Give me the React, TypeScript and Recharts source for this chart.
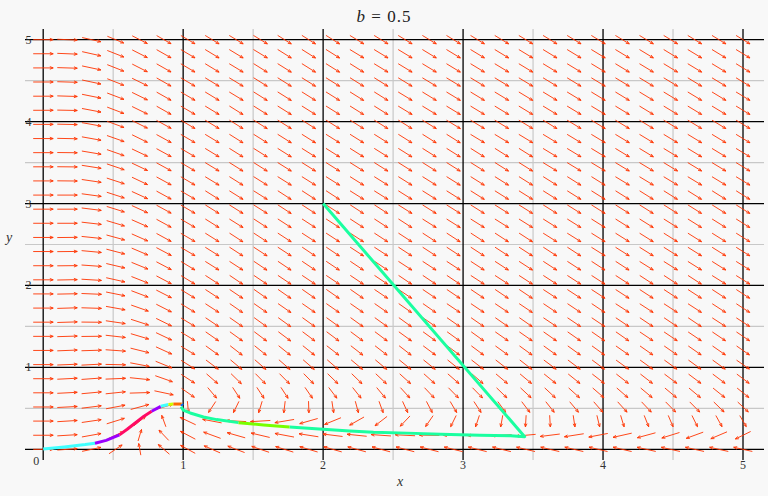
import React from 'react';
import { ScatterChart, Scatter, XAxis, YAxis, CartesianGrid } from 'recharts';

// sample points of the direction field (0..5 in 29 steps on both axes)
const fieldX = [0, 0.172, 0.345, 0.517, 0.69, 0.862, 1.034, 1.207, 1.379, 1.552, 1.724, 1.897, 2.069, 2.241, 2.414, 2.586, 2.759, 2.931, 3.103, 3.276, 3.448, 3.621, 3.793, 3.966, 4.138, 4.31, 4.483, 4.655, 4.828, 5];
const fieldY = [0, 0.172, 0.345, 0.517, 0.69, 0.862, 1.034, 1.207, 1.379, 1.552, 1.724, 1.897, 2.069, 2.241, 2.414, 2.586, 2.759, 2.931, 3.103, 3.276, 3.448, 3.621, 3.793, 3.966, 4.138, 4.31, 4.483, 4.655, 4.828, 5];

// arrow direction in degrees for each row of fieldY (0 = right, 90 = up)
const fieldAngle = [
  [0, 7, 20, 49, 96, 124, 137, 143, 147, 150, 152, 153, 154, 155, 155, 156, 156, 157, 157, 157, 158, 158, 158, 158, 158, 159, 159, 159, 159, 159],
  [0, 6, 17, 38, 80, 119, 138, 148, 154, 158, 162, 165, 168, 170, 173, 175, 178, 180, 183, 186, 189, 192, 195, 198, 201, 205, 208, 212, 216, 220],
  [0, 6, 14, 28, 54, 102, 141, 162, 175, 186, 196, 206, 215, 224, 233, 241, 248, 254, 259, 264, 268, 272, 275, 278, 280, 283, 284, 286, 288, 289],
  [0, 5, 12, 18, 25, 27, -87, -111, -106, -100, -94, -89, -85, -81, -78, -75, -73, -71, -69, -67, -66, -65, -64, -63, -62, -61, -60, -60, -59, -58],
  [0, 5, 9, 10, 3, -20, -50, -64, -69, -69, -69, -68, -66, -65, -64, -62, -61, -60, -60, -59, -58, -58, -57, -56, -56, -55, -55, -55, -54, -54],
  [0, 5, 7, 4, -10, -31, -48, -56, -59, -60, -60, -60, -59, -59, -58, -57, -57, -56, -56, -55, -55, -54, -54, -53, -53, -53, -52, -52, -52, -52],
  [0, 4, 5, -2, -18, -35, -47, -52, -55, -56, -56, -56, -56, -55, -55, -54, -54, -54, -53, -53, -53, -52, -52, -52, -51, -51, -51, -51, -51, -50],
  [0, 4, 3, -7, -23, -38, -46, -51, -53, -54, -54, -54, -53, -53, -53, -53, -52, -52, -52, -51, -51, -51, -51, -51, -50, -50, -50, -50, -50, -50],
  [0, 3, 1, -11, -27, -39, -46, -50, -51, -52, -52, -52, -52, -52, -52, -51, -51, -51, -51, -50, -50, -50, -50, -50, -50, -49, -49, -49, -49, -49],
  [0, 3, -1, -14, -29, -40, -46, -49, -50, -51, -51, -51, -51, -51, -51, -51, -50, -50, -50, -50, -50, -49, -49, -49, -49, -49, -49, -49, -48, -48],
  [0, 3, -3, -17, -31, -41, -46, -48, -50, -50, -50, -50, -50, -50, -50, -50, -50, -49, -49, -49, -49, -49, -49, -49, -48, -48, -48, -48, -48, -48],
  [0, 2, -4, -19, -33, -41, -46, -48, -49, -50, -50, -50, -50, -50, -49, -49, -49, -49, -49, -49, -49, -48, -48, -48, -48, -48, -48, -48, -48, -48],
  [0, 2, -6, -21, -34, -42, -46, -48, -49, -49, -49, -49, -49, -49, -49, -49, -49, -49, -48, -48, -48, -48, -48, -48, -48, -48, -48, -48, -47, -47],
  [0, 1, -7, -22, -35, -42, -46, -47, -48, -49, -49, -49, -49, -49, -49, -48, -48, -48, -48, -48, -48, -48, -48, -48, -48, -47, -47, -47, -47, -47],
  [0, 1, -9, -24, -36, -42, -45, -47, -48, -48, -48, -49, -49, -48, -48, -48, -48, -48, -48, -48, -48, -48, -48, -47, -47, -47, -47, -47, -47, -47],
  [0, 1, -10, -25, -37, -43, -45, -47, -48, -48, -48, -48, -48, -48, -48, -48, -48, -48, -48, -48, -48, -47, -47, -47, -47, -47, -47, -47, -47, -47],
  [0, 0, -11, -27, -37, -43, -45, -47, -47, -48, -48, -48, -48, -48, -48, -48, -47, -47, -47, -47, -47, -47, -47, -47, -47, -47, -47, -47, -47, -47],
  [0, 0, -12, -28, -38, -43, -45, -47, -47, -47, -48, -48, -48, -48, -48, -47, -47, -47, -47, -47, -47, -47, -47, -47, -47, -47, -47, -47, -47, -47],
  [0, 0, -13, -29, -38, -43, -45, -47, -47, -47, -48, -48, -48, -47, -47, -47, -47, -47, -47, -47, -47, -47, -47, -47, -47, -47, -47, -47, -47, -47],
  [0, -1, -14, -29, -39, -43, -45, -46, -47, -47, -47, -47, -47, -47, -47, -47, -47, -47, -47, -47, -47, -47, -47, -47, -46, -46, -46, -46, -46, -46],
  [0, -1, -15, -30, -39, -43, -45, -46, -47, -47, -47, -47, -47, -47, -47, -47, -47, -47, -47, -47, -47, -46, -46, -46, -46, -46, -46, -46, -46, -46],
  [0, -1, -16, -31, -39, -43, -45, -46, -47, -47, -47, -47, -47, -47, -47, -47, -47, -47, -47, -47, -47, -46, -46, -46, -46, -46, -46, -46, -46, -46],
  [0, -2, -17, -31, -40, -43, -45, -46, -47, -47, -47, -47, -47, -47, -47, -47, -47, -47, -46, -46, -46, -46, -46, -46, -46, -46, -46, -46, -46, -46],
  [0, -2, -17, -32, -40, -43, -45, -46, -47, -47, -47, -47, -47, -47, -47, -47, -46, -46, -46, -46, -46, -46, -46, -46, -46, -46, -46, -46, -46, -46],
  [0, -2, -18, -33, -40, -44, -45, -46, -47, -47, -47, -47, -47, -47, -47, -46, -46, -46, -46, -46, -46, -46, -46, -46, -46, -46, -46, -46, -46, -46],
  [0, -3, -19, -33, -40, -44, -45, -46, -46, -47, -47, -47, -47, -47, -47, -46, -46, -46, -46, -46, -46, -46, -46, -46, -46, -46, -46, -46, -46, -46],
  [0, -3, -20, -34, -40, -44, -45, -46, -46, -47, -47, -47, -47, -47, -47, -46, -46, -46, -46, -46, -46, -46, -46, -46, -46, -46, -46, -46, -46, -46],
  [0, -3, -20, -34, -41, -44, -45, -46, -46, -47, -47, -47, -47, -47, -46, -46, -46, -46, -46, -46, -46, -46, -46, -46, -46, -46, -46, -46, -46, -46],
  [0, -4, -21, -34, -41, -44, -45, -46, -46, -46, -47, -47, -47, -46, -46, -46, -46, -46, -46, -46, -46, -46, -46, -46, -46, -46, -46, -46, -46, -46],
  [0, -4, -21, -35, -41, -44, -45, -46, -46, -46, -47, -47, -47, -46, -46, -46, -46, -46, -46, -46, -46, -46, -46, -46, -46, -46, -46, -46, -46, -46],
];

const majorLines = [0, 1, 2, 3, 4, 5];
const minorLines = [0.5, 1.5, 2.5, 3.5, 4.5];
const xTicks = [0, 1, 2, 3, 4, 5];
const yTicks = [1, 2, 3, 4, 5];

// orbit starting at the origin, cut where its colour changes
const orbitOriginCyan = [[0, 0.005], [0.15, 0.03], [0.3, 0.058], [0.37, 0.075]];
const orbitOriginViolet = [[0.37, 0.075], [0.45, 0.11], [0.545, 0.177]];
const orbitOriginPink = [[0.545, 0.177], [0.6, 0.245], [0.66, 0.325], [0.72, 0.405], [0.775, 0.465]];
const orbitOriginViolet2 = [[0.775, 0.465], [0.84, 0.525]];
const orbitOriginCyan2 = [[0.84, 0.525], [0.895, 0.548]];
const orbitOriginYellow = [[0.895, 0.548], [0.93, 0.553]];
const orbitOriginOrange = [[0.93, 0.553], [0.99, 0.553]];
const orbitOriginBlue = [[0.99, 0.553], [0.995, 0.535]];

// orbit starting at (2, 3)
const orbitUpperGreen = [[2, 3], [3.44, 0.155], [3.34, 0.165], [3.12, 0.171], [2.84, 0.183], [2.6, 0.198], [2.36, 0.208], [2.19, 0.224], [2.0, 0.245], [1.76, 0.273]];
const orbitUpperLime = [[1.76, 0.273], [1.574, 0.297], [1.395, 0.326]];
const orbitUpperGreen2 = [[1.395, 0.326], [1.24, 0.363], [1.145, 0.395], [1.05, 0.444], [1.0, 0.48], [0.985, 0.52]];

const W = 768;
const H = 496;
const FONT = 'Liberation Serif, DejaVu Serif, serif';

const arrowData = fieldY.flatMap((y, j) => fieldX.map((x, i) => ({ x, y, a: fieldAngle[j][i] })));

const toPoints = (pts: number[][]) => pts.map(([x, y]) => ({ x, y }));

const orbits = [
  { pts: orbitOriginCyan, color: '#40ffff' },
  { pts: orbitOriginViolet, color: '#9900ff' },
  { pts: orbitOriginPink, color: '#ff0a64' },
  { pts: orbitOriginViolet2, color: '#9900ff' },
  { pts: orbitOriginCyan2, color: '#40ffff' },
  { pts: orbitOriginYellow, color: '#ccff00' },
  { pts: orbitOriginOrange, color: '#ff6a00' },
  { pts: orbitOriginBlue, color: '#0066ff' },
  { pts: orbitUpperGreen, color: '#1affa0' },
  { pts: orbitUpperLime, color: '#77ff00' },
  { pts: orbitUpperGreen2, color: '#1affa0' },
];

// arrow glyph drawn around the sample point, scaled to the cell shape
function FieldArrow(props: any) {
  const { cx, cy } = props;
  const p = props.payload || props;
  if (cx == null || cy == null) return <g />;
  const t = ((p.a || 0) * Math.PI) / 180;
  const dx = Math.cos(t) * 10;
  const dy = -Math.sin(t) * 5.85;
  const x1 = cx - dx;
  const y1 = cy - dy;
  const x2 = cx + dx;
  const y2 = cy + dy;
  const len = Math.hypot(dx, dy) || 1;
  const hx = (-dx / len) * 3.6;
  const hy = (-dy / len) * 3.6;
  const c = Math.cos(0.38);
  const s = Math.sin(0.38);
  const b1x = x2 + hx * c - hy * s;
  const b1y = y2 + hx * s + hy * c;
  const b2x = x2 + hx * c + hy * s;
  const b2y = y2 - hx * s + hy * c;
  return (
    <path
      d={`M${x1},${y1}L${x2},${y2}M${b1x},${b1y}L${x2},${y2}L${b2x},${b2y}`}
      stroke="#ff3300"
      strokeWidth={0.9}
      fill="none"
    />
  );
}

function XTick(props: any) {
  const { x, y, payload } = props;
  const zero = payload.value === 0;
  return (
    <text x={zero ? x - 7 : x} y={y} dy={zero ? 5 : 9} textAnchor="middle" fontSize={12} fontFamily={FONT} fill="#333">
      {payload.value}
    </text>
  );
}

function YTick(props: any) {
  const { x, y, payload } = props;
  return (
    <text x={x + 3.5} y={y} dy={4} textAnchor="middle" fontSize={12} fontFamily={FONT} fill="#333">
      {payload.value}
    </text>
  );
}

export default function App() {
  return (
    <div style={{ position: 'absolute', left: 0, top: 0, width: W, height: H, background: '#f8f8f8', fontFamily: FONT }}>
      <ScatterChart width={W} height={H} margin={{ top: 29, right: 4, bottom: 0, left: 0 }}>
        <CartesianGrid horizontalValues={minorLines} verticalValues={minorLines} stroke="#c8c8c8" strokeWidth={1.2} />
        <CartesianGrid horizontalValues={majorLines} verticalValues={majorLines} stroke="#000000" strokeWidth={1.3} />
        <XAxis
          type="number"
          dataKey="x"
          domain={[-0.13, 5.15]}
          allowDataOverflow
          ticks={xTicks}
          interval={0}
          height={36}
          tickSize={0}
          tickMargin={0}
          axisLine={false}
          tickLine={false}
          tick={<XTick />}
        />
        <YAxis
          type="number"
          dataKey="y"
          domain={[-0.13, 5.13]}
          allowDataOverflow
          ticks={yTicks}
          interval={0}
          width={25}
          tickSize={0}
          tickMargin={0}
          axisLine={false}
          tickLine={false}
          tick={<YTick />}
        />
        <Scatter data={arrowData} shape={FieldArrow} isAnimationActive={false} />
        {orbits.map((o, i) => (
          <Scatter
            key={i}
            data={toPoints(o.pts)}
            fill={o.color}
            line={{ stroke: o.color, strokeWidth: 3, strokeLinejoin: 'round' }}
            lineType="joint"
            shape={() => <g />}
            isAnimationActive={false}
          />
        ))}
      </ScatterChart>
      <div style={{ position: 'absolute', left: 0, top: 8, width: W, textAlign: 'center', fontSize: 17, lineHeight: '17px', color: '#222', letterSpacing: 1 }}>
        <i>b</i> = 0.5
      </div>
      <div style={{ position: 'absolute', left: 397, top: 475, fontSize: 14, lineHeight: '14px', fontStyle: 'italic', color: '#333' }}>x</div>
      <div style={{ position: 'absolute', left: 6, top: 231, fontSize: 14, lineHeight: '14px', fontStyle: 'italic', color: '#333' }}>y</div>
    </div>
  );
}
